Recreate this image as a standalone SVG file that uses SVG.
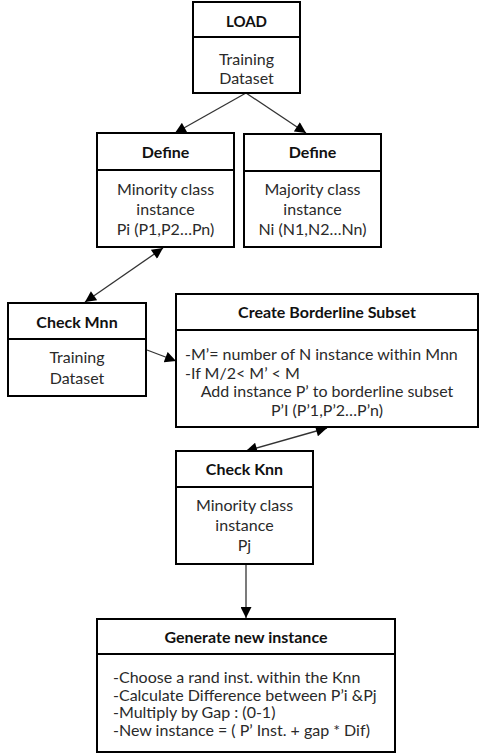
<svg xmlns="http://www.w3.org/2000/svg" width="480" height="756" viewBox="0 0 480 756">
<defs>
<marker id="ah" viewBox="0 0 10 10" refX="10" refY="5" markerWidth="12" markerHeight="11" markerUnits="userSpaceOnUse" orient="auto-start-reverse">
<path d="M0,0 L10,5 L0,10 Z" fill="#000"/>
</marker>
</defs>
<style>
.box{fill:#fff;stroke:#000;stroke-width:2}
.div{stroke:#000;stroke-width:2}
.hd{font-family:Lato,"Liberation Sans",sans-serif;font-weight:bold;font-size:16px;fill:#111;text-anchor:middle}
.tx{font-family:Lato,"Liberation Sans",sans-serif;font-size:16px;fill:#2a2a2a;text-anchor:middle}
.tl{font-family:Lato,"Liberation Sans",sans-serif;font-size:16px;fill:#2a2a2a}
.cn{stroke:#333;stroke-width:1.3;fill:none}
</style>
<rect width="480" height="756" fill="#fff"/>
<g id="connectors">
<line class="cn" x1="246" y1="93" x2="175" y2="133" marker-end="url(#ah)"/>
<line class="cn" x1="246" y1="93" x2="306" y2="133" marker-end="url(#ah)"/>
<line class="cn" x1="163" y1="248" x2="85" y2="302" marker-start="url(#ah)" marker-end="url(#ah)"/>
<line class="cn" x1="147" y1="350" x2="176" y2="361" marker-end="url(#ah)"/>
<line class="cn" x1="327" y1="428" x2="246" y2="451" marker-start="url(#ah)" marker-end="url(#ah)"/>
<line class="cn" x1="246" y1="564" x2="246" y2="618" marker-end="url(#ah)"/>
</g>
<g id="load">
<rect class="box" x="193" y="2" width="107" height="91"/>
<line class="div" x1="193" y1="37" x2="300" y2="37"/>
<text class="hd" x="246.5" y="27" style="font-size:15px">LOAD</text>
<text class="tx" x="246.5" y="65">Training</text>
<text class="tx" x="246.5" y="84">Dataset</text>
</g>
<g id="define-minority">
<rect class="box" x="97" y="133" width="137" height="114"/>
<line class="div" x1="97" y1="170" x2="234" y2="170"/>
<text class="hd" x="165.5" y="158">Define</text>
<text class="tx" x="165.5" y="195">Minority class</text>
<text class="tx" x="165.5" y="215">instance</text>
<text class="tx" x="165.5" y="235">Pi (P1,P2…Pn)</text>
</g>
<g id="define-majority">
<rect class="box" x="244" y="134" width="137" height="113"/>
<line class="div" x1="244" y1="171" x2="381" y2="171"/>
<text class="hd" x="312.5" y="158">Define</text>
<text class="tx" x="312.5" y="195">Majority class</text>
<text class="tx" x="312.5" y="215">instance</text>
<text class="tx" x="312.5" y="235">Ni (N1,N2…Nn)</text>
</g>
<g id="check-mnn">
<rect class="box" x="8" y="303" width="138" height="93"/>
<line class="div" x1="8" y1="339" x2="146" y2="339"/>
<text class="hd" x="77" y="328">Check Mnn</text>
<text class="tx" x="77" y="363">Training</text>
<text class="tx" x="77" y="384">Dataset</text>
</g>
<g id="create-borderline">
<rect class="box" x="176" y="294" width="302" height="133"/>
<line class="div" x1="176" y1="330" x2="478" y2="330"/>
<text class="hd" x="327" y="318">Create Borderline Subset</text>
<text class="tl" x="185" y="360">-M’= number of N instance within Mnn</text>
<text class="tl" x="185" y="378.5">-If M/2&lt; M’ &lt; M</text>
<text class="tx" x="327" y="397">Add instance P’ to  borderline subset</text>
<text class="tx" x="327" y="415.5">P’I (P’1,P’2…P’n)</text>
</g>
<g id="check-knn">
<rect class="box" x="176" y="451" width="137" height="113"/>
<line class="div" x1="176" y1="487" x2="313" y2="487"/>
<text class="hd" x="244.5" y="475">Check Knn</text>
<text class="tx" x="244.5" y="511">Minority class</text>
<text class="tx" x="244.5" y="531">instance</text>
<text class="tx" x="244.5" y="551">Pj</text>
</g>
<g id="generate">
<rect class="box" x="97" y="619" width="298" height="133"/>
<line class="div" x1="97" y1="654" x2="395" y2="654"/>
<text class="hd" x="246" y="643">Generate new instance</text>
<text class="tl" x="113" y="683">-Choose a rand inst. within the Knn</text>
<text class="tl" x="113" y="700.5">-Calculate Difference  between P’i &amp;Pj</text>
<text class="tl" x="113" y="718">-Multiply by Gap : (0-1)</text>
<text class="tl" x="113" y="735.5">-New instance = ( P’ Inst. + gap * Dif)</text>
</g>
</svg>
